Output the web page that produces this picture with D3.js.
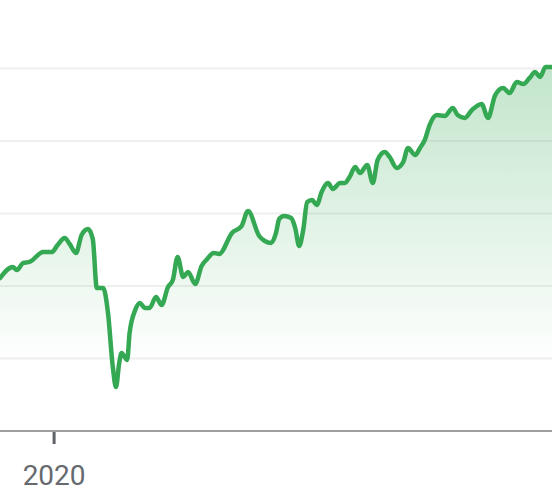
<!DOCTYPE html>
<html>
<head>
<meta charset="utf-8">
<script src="https://cdn.jsdelivr.net/npm/d3@7"></script>
<style>
  html, body { margin: 0; padding: 0; background: #fff; }
  svg { display: block; }
</style>
</head>
<body>
<div id="chart"></div>
<script>
// index level, one point per visible turn of the line
const dates = [
  "2019-10-26", "2019-11-11", "2019-11-16", "2019-11-24", "2019-12-02", "2019-12-19", "2019-12-30",
  "2020-01-06", "2020-01-15", "2020-01-21", "2020-01-29", "2020-02-05", "2020-02-13", "2020-02-19",
  "2020-02-24", "2020-03-03", "2020-03-09", "2020-03-15", "2020-03-19", "2020-03-23", "2020-03-26",
  "2020-04-02", "2020-04-05", "2020-04-12", "2020-04-18", "2020-04-24", "2020-04-30", "2020-05-08",
  "2020-05-15", "2020-05-23", "2020-05-29", "2020-06-04", "2020-06-11", "2020-06-17", "2020-06-26",
  "2020-07-04", "2020-07-11", "2020-07-19", "2020-07-26", "2020-08-11", "2020-08-23", "2020-08-31",
  "2020-09-14", "2020-09-21", "2020-09-29", "2020-10-05", "2020-10-09", "2020-10-15", "2020-10-24",
  "2020-10-29", "2020-11-03", "2020-11-08", "2020-11-13", "2020-11-19", "2020-11-25", "2020-12-01",
  "2020-12-09", "2020-12-15", "2020-12-24", "2020-12-30", "2021-01-05", "2021-01-12", "2021-01-18",
  "2021-01-27", "2021-02-03", "2021-02-09", "2021-02-18", "2021-02-24", "2021-03-05", "2021-03-13",
  "2021-03-19", "2021-03-28", "2021-04-03", "2021-04-09", "2021-04-15", "2021-04-24", "2021-05-04",
  "2021-05-14", "2021-05-20", "2021-05-29", "2021-06-07", "2021-06-19", "2021-06-27", "2021-07-06",
  "2021-07-16", "2021-07-24", "2021-08-02", "2021-08-10", "2021-08-18", "2021-08-25", "2021-08-31",
  "2021-09-07", "2021-09-15"
];
const values = [
  3055, 3131, 3110, 3159, 3166, 3235, 3235,
  3283, 3331, 3290, 3228, 3352, 3393, 3324,
  2986, 2986, 2814, 2441, 2303, 2469, 2538,
  2490, 2676, 2834, 2883, 2848, 2848, 2924,
  2869, 2993, 3041, 3200, 3062, 3097, 3014,
  3138, 3186, 3228, 3221, 3366, 3414, 3517,
  3345, 3310, 3297, 3366, 3462, 3483, 3469,
  3400, 3276, 3386, 3579, 3593, 3559, 3648,
  3710, 3669, 3710, 3710, 3752, 3821, 3779,
  3835, 3710, 3869, 3924, 3890, 3814, 3855,
  3952, 3904, 3952, 4007, 4110, 4179, 4173,
  4228, 4179, 4159, 4214, 4255, 4159, 4317,
  4366, 4331, 4407, 4393, 4435, 4476, 4441,
  4510, 4510
];
const gridValues = [2500, 3000, 3500, 4000, 4500];
const tickDates = ["2020-01-01"];
const tickLabels = ["2020"];

const width = 552, height = 499;
const parse = d3.timeParse("%Y-%m-%d");
const data = dates.map((d, i) => ({ date: parse(d), value: values[i] }));

const x = d3.scaleTime()
  .domain([parse("2019-10-26"), parse("2021-09-15")])
  .range([0, width]);

const y = d3.scaleLinear()
  .domain([2000, 4500])
  .range([431, 68.5]);

const svg = d3.select("#chart").append("svg")
  .attr("width", width)
  .attr("height", height);

const defs = svg.append("defs");
const grad = defs.append("linearGradient")
  .attr("id", "fade")
  .attr("gradientUnits", "userSpaceOnUse")
  .attr("x1", 0).attr("x2", 0)
  .attr("y1", y(d3.max(values))).attr("y2", y(2450));
grad.append("stop").attr("offset", "0%").attr("stop-color", "#34a853").attr("stop-opacity", 0.3);
grad.append("stop").attr("offset", "100%").attr("stop-color", "#34a853").attr("stop-opacity", 0);

// horizontal grid
svg.append("g")
  .selectAll("line")
  .data(gridValues)
  .join("line")
  .attr("x1", 0)
  .attr("x2", width)
  .attr("y1", d => y(d))
  .attr("y2", d => y(d))
  .attr("stroke", "#efefef")
  .attr("stroke-width", 2);

const area = d3.area()
  .x(d => x(d.date))
  .y0(y(2000))
  .y1(d => y(d.value))
  .curve(d3.curveMonotoneX);

const line = d3.line()
  .x(d => x(d.date))
  .y(d => y(d.value))
  .curve(d3.curveMonotoneX);

svg.append("path")
  .datum(data)
  .attr("d", area)
  .attr("fill", "url(#fade)");

// x axis
const xAxis = d3.axisBottom(x)
  .tickValues(tickDates.map(parse))
  .tickSize(0)
  .tickFormat((d, i) => tickLabels[i]);

const ax = svg.append("g")
  .attr("transform", "translate(0," + y(2000) + ")")
  .call(xAxis);

ax.select(".domain")
  .attr("d", "M0,0H" + width)
  .attr("stroke", "#9e9e9e")
  .attr("stroke-width", 2);

ax.selectAll(".tick line")
  .attr("y1", 1)
  .attr("y2", 13)
  .attr("stroke", "#5f6368")
  .attr("stroke-width", 3);

ax.selectAll(".tick text")
  .attr("y", 54)
  .attr("dy", 0)
  .attr("fill", "#666a6f")
  .style("font-family", "Roboto, 'Noto Sans', sans-serif")
  .style("font-size", "28px");

svg.append("path")
  .datum(data)
  .attr("d", line)
  .attr("fill", "none")
  .attr("stroke", "#34a853")
  .attr("stroke-width", 4.5)
  .attr("stroke-linejoin", "round")
  .attr("stroke-linecap", "round");
</script>
</body>
</html>
